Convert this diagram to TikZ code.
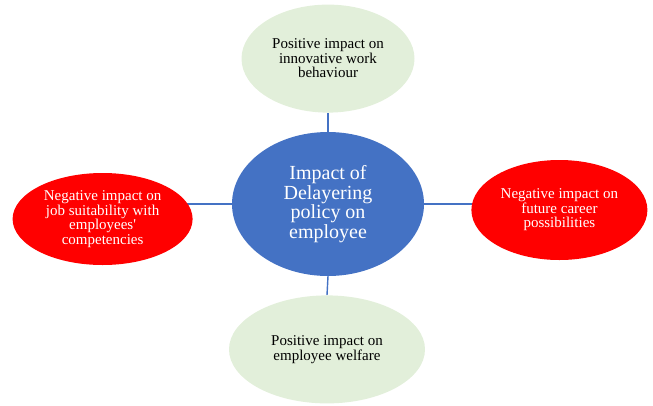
\documentclass[tikz,border=0pt]{standalone}
\usepackage{fontspec}
\setmainfont{Liberation Serif}
\usetikzlibrary{shapes.geometric, positioning, backgrounds}

\definecolor{hubblue}{HTML}{4472C4}
\definecolor{posgreen}{HTML}{E2EFDA}
\definecolor{negred}{HTML}{FF0000}

\begin{document}
\begin{tikzpicture}[
		x=1pt, y=-1pt,
		bubble/.style={ellipse, inner sep=0pt, align=center, font=\fontsize{15}{14.5}\selectfont},
		positive/.style={bubble, fill=posgreen, text=black},
		negative/.style={bubble, fill=negred, text=white},
		link/.style={draw=hubblue, line width=1.4pt}
	]
	\useasboundingbox (0,0) rectangle (653,405);
	
	\node[ellipse, fill=hubblue, text=white, inner sep=0pt, align=center,
		minimum width=192pt, minimum height=144pt,
		font=\fontsize{20}{19.5}\selectfont] (hub) at (328,204)
		{Impact of\\Delayering\\policy on\\employee};
	
	\node[positive, minimum width=173pt, minimum height=108pt, above=19pt of hub] (pos1)
		{Positive impact on\\innovative work\\behaviour};
	\node[positive, minimum width=196pt, minimum height=108pt, below=19pt of hub, xshift=-1pt] (pos2)
		{Positive impact on\\employee welfare};
	\node[negative, minimum width=180pt, minimum height=92pt, left=39pt of hub, yshift=-15pt] (neg1)
		{Negative impact on\\job suitability with\\employees\textquotesingle\\competencies};
	\node[negative, minimum width=176pt, minimum height=100pt, right=47pt of hub, yshift=-6pt] (neg2)
		{Negative impact on\\future career\\possibilities};
	
	% spokes sit behind the bubbles
	\begin{scope}[on background layer]
		\draw[link] (hub.north) -- (pos1.south);
		\draw[link] (hub.south) -- (pos2.north);
		\draw[link] (hub.west) -- (neg1.center |- hub.west);
		\draw[link] (hub.east) -- (neg2.center |- hub.east);
	\end{scope}
\end{tikzpicture}
\end{document}
